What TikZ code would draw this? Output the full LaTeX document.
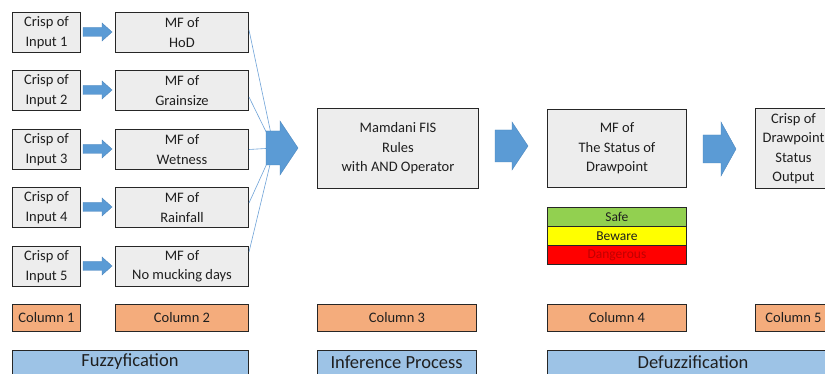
\documentclass[tikz,border=0pt]{standalone}
\usepackage{fontspec}
\setmainfont{Carlito}
\definecolor{boxgray}{HTML}{EDEDED}
\definecolor{orng}{HTML}{F4AC7C}
\definecolor{lblue}{HTML}{9DC3E6}
\definecolor{arrowblue}{HTML}{5B9BD5}
\definecolor{arrowedge}{HTML}{4A85BD}
\definecolor{fanblue}{HTML}{6FA3D8}
\definecolor{txt}{HTML}{1F1F1F}
\definecolor{safeg}{HTML}{92D050}
\definecolor{bewy}{HTML}{FFFF00}
\definecolor{dangr}{HTML}{FF0000}
\definecolor{dangtxt}{HTML}{C00000}
\newcommand{\myarrow}[6]{\filldraw[fill=arrowblue, draw=arrowedge, line width=0.4pt] (#1,#4-#5) -- (#2,#4-#5) -- (#2,#4-#6) -- (#3,#4) -- (#2,#4+#6) -- (#2,#4+#5) -- (#1,#4+#5) -- cycle;}
\tikzset{
  box/.style={draw=black!85, fill=boxgray, line width=1pt, inner sep=0pt, align=center,
    text=txt, font=\fontsize{14.5}{19.5}\selectfont, anchor=north west},
  colbox/.style={box, fill=orng},
  stagebox/.style={draw=black!85, fill=lblue, line width=1pt, inner sep=0pt, anchor=north west},
  stagetext/.style={text=txt, font=\fontsize{18.5}{20}\selectfont, anchor=center},
  bar/.style={draw=black!85, line width=0.8pt, inner sep=0pt, anchor=north west,
    minimum width=139pt, minimum height=19pt, font=\fontsize{13.5}{14}\selectfont, text=txt},
  fan/.style={draw=fanblue, line width=0.6pt}
}
\begin{document}
\begin{tikzpicture}[x=1pt,y=-1pt]
\useasboundingbox (0,0) rectangle (825,374);
\clip (0,0) rectangle (825,374);
\fill[white] (0,0) rectangle (825,374);

% column 1 and 2
\node[box, minimum width=68pt, minimum height=40pt] (c1) at (12,12) {Crisp of\\Input 1};
\node[box, minimum width=68pt, minimum height=40pt] (c2) at (12,70) {Crisp of\\Input 2};
\node[box, minimum width=68pt, minimum height=40pt] (c3) at (12,129) {Crisp of\\Input 3};
\node[box, minimum width=68pt, minimum height=40pt] (c4) at (12,187) {Crisp of\\Input 4};
\node[box, minimum width=68pt, minimum height=40pt] (c5) at (12,246) {Crisp of\\Input 5};

\node[box, minimum width=133pt, minimum height=40pt] (m1) at (115,12) {MF of\\HoD};
\node[box, minimum width=133pt, minimum height=40pt] (m2) at (115,70) {MF of\\Grainsize};
\node[box, minimum width=133pt, minimum height=40pt] (m3) at (115,129) {MF of\\Wetness};
\node[box, minimum width=133pt, minimum height=40pt] (m4) at (115,187) {MF of\\Rainfall};
\node[box, minimum width=133pt, minimum height=40pt] (m5) at (115,246) {MF of\\No mucking days};

% small arrows
\myarrow{83}{102}{112}{32}{4.5}{9}
\myarrow{83}{102}{112}{90}{4.5}{9}
\myarrow{83}{102}{112}{149}{4.5}{9}
\myarrow{83}{102}{112}{207}{4.5}{9}
\myarrow{83}{102}{112}{266}{4.5}{9}

% fan lines
\coordinate (fanend) at (274,148);
\draw[fan] (m1.east |- 0,30) -- (fanend);
\draw[fan] (m2.east |- 0,97) -- (fanend);
\draw[fan] (m3.east) -- (fanend);
\draw[fan] (m4.east |- 0,203) -- (fanend);
\draw[fan] (m5.east |- 0,252) -- (fanend);

% big arrows
\myarrow{266}{280}{298}{148}{17}{27}
\myarrow{495}{512}{528}{146}{16}{24}
\myarrow{703}{721}{736}{149}{14}{27}

% middle boxes
\node[box, minimum width=161pt, minimum height=80pt] (mam) at (317,108) {Mamdani FIS\\Rules\\with AND Operator};
\node[box, minimum width=139pt, minimum height=78pt] (mfs) at (547,109) {MF of\\The Status of\\Drawpoint};
\node[box, minimum width=76pt, minimum height=80pt] (out) at (755,108) {Crisp of\\Drawpoint\\Status\\Output};

% status bars
\node[bar, fill=safeg] (safe) at (547,207) {Safe};
\node[bar, fill=bewy] (bew) at (547,226) {Beware};
\node[bar, fill=dangr, text=dangtxt] (dang) at (547,245) {Dangerous};

% column labels
\node[colbox, minimum width=68pt, minimum height=27pt] (k1) at (12,304) {Column 1};
\node[colbox, minimum width=133pt, minimum height=27pt] (k2) at (115,304) {Column 2};
\node[colbox, minimum width=159pt, minimum height=27pt] (k3) at (317,304) {Column 3};
\node[colbox, minimum width=139pt, minimum height=27pt] (k4) at (547,304) {Column 4};
\node[colbox, minimum width=76pt, minimum height=27pt] (k5) at (755,304) {Column 5};

% stage labels
\node[stagebox, minimum width=236pt, minimum height=34pt] (s1) at (12,350) {};
\node[stagetext] at (130,362) {Fuzzyfication};
\node[stagebox, minimum width=159pt, minimum height=34pt] (s2) at (317,350) {};
\node[stagetext] at (396.5,362) {Inference Process};
\node[stagebox, minimum width=292pt, minimum height=34pt] (s3) at (547,350) {};
\node[stagetext] at (693,362) {Defuzzification};
\end{tikzpicture}
\end{document}
